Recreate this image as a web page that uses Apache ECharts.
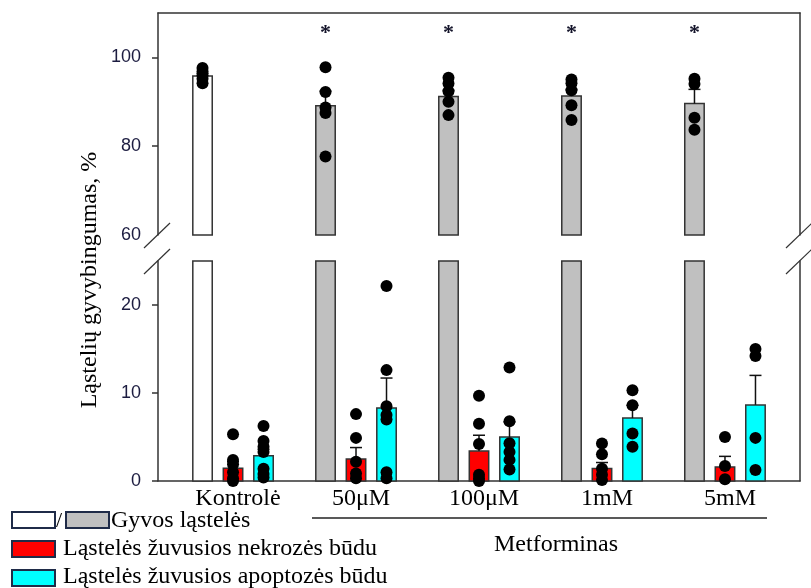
<!DOCTYPE html>
<html>
<head>
<meta charset="utf-8">
<script src="https://cdn.jsdelivr.net/npm/echarts@6/dist/echarts.min.js"></script>
<style>
  html, body { margin: 0; padding: 0; background: #ffffff; }
  #chart { width: 811px; height: 588px; }
</style>
</head>
<body>
<div id="chart"></div>
<script>
// ---------------- data ----------------
const groups = ['Kontrolė', '50μM', '100μM', '1mM', '5mM'];
const sigMarks = ['', '*', '*', '*', '*'];

// live cells (%), mean / mean+SEM / individual points
const liveMean   = [95.8, 89.1, 91.2, 91.3, 89.6];
const liveErrTop = [96.4, 92.4, 92.6, 92.8, 92.8];
const liveDots = [
  [97.6, 96.8, 96.0, 95.2, 94.2],
  [97.8, 92.2, 88.7, 87.5, 77.7],
  [95.4, 94.1, 92.4, 90.0, 87.0],
  [95.0, 94.2, 92.6, 89.2, 85.9],
  [95.2, 94.0, 86.4, 83.7]
];

// necrotic cells (%)
const necMean   = [1.45, 2.5, 3.4, 1.43, 1.6];
const necErrTop = [2.2, 3.8, 5.2, 2.1, 2.8];
const necDots = [
  [5.3, 2.4, 1.9, 1.0, 0.3, 0.0],
  [7.6, 4.9, 2.2, 0.85, 0.3],
  [9.7, 6.5, 4.2, 0.7, 0.3, 0.0],
  [4.25, 3.05, 1.4, 0.7, 0.1],
  [5.0, 1.7, 0.2]
];

// apoptotic cells (%)
const apoMean   = [2.86, 8.3, 5.0, 7.15, 8.65];
const apoErrTop = [3.6, 11.7, 6.7, 8.6, 12.0];
const apoDots = [
  [6.25, 4.55, 3.9, 3.3, 1.4, 0.8, 0.4],
  [22.15, 12.6, 8.5, 7.5, 7.0, 1.0, 0.3],
  [12.9, 6.8, 4.3, 3.3, 2.4, 1.3],
  [10.3, 8.6, 5.4, 3.9],
  [15.0, 14.2, 4.9, 1.24]
];

const upperTicks = [60, 80, 100];
const lowerTicks = [0, 10, 20];

// ---------------- layout / style ----------------
const UP_MIN = 60, UP_MAX = 110, LOW_MIN = 0, LOW_MAX = 25;
const X_MIN = 0.39, X_MAX = 5.61;
const OFFSET = 0.248, BAR_W = 0.158;
const SIG_Y = 105.4;
const AXIS_X_L = 158, AXIS_X_R = 800, TOP = 13, UP_BOT = 235, LOW_TOP = 261, BOT = 481;
const SERIF = '"Liberation Serif", "Times New Roman", serif';
const SANS = '"Liberation Sans", Arial, sans-serif';
const STROKE = '#333333';
const FILL_CTRL = '#ffffff', FILL_LIVE = '#c0c0c0', FILL_NEC = '#ff0000', FILL_APO = '#00ffff';

const chart = echarts.init(document.getElementById('chart'), null, { renderer: 'canvas' });

function barSeries(gridIdx, values, offset, fillFn, floor, ceil) {
  return {
    type: 'custom', xAxisIndex: gridIdx, yAxisIndex: gridIdx * 2, z: 2, clip: false,
    data: values.map((v, i) => [i + 1, v]),
    renderItem: (params, api) => {
      const x = api.value(0) + offset;
      const v = Math.min(api.value(1), ceil);
      const a = api.coord([x - BAR_W / 2, v]);
      const b = api.coord([x + BAR_W / 2, floor]);
      return {
        type: 'rect',
        shape: { x: a[0], y: a[1], width: b[0] - a[0], height: b[1] - a[1] },
        style: { fill: fillFn(params.dataIndex), stroke: STROKE, lineWidth: 1.5 }
      };
    }
  };
}

function errSeries(gridIdx, means, tops, offset) {
  return {
    type: 'custom', xAxisIndex: gridIdx, yAxisIndex: gridIdx * 2, z: 3, clip: false,
    data: means.map((m, i) => [i + 1, m, tops[i]]),
    renderItem: (params, api) => {
      const x = api.value(0) + offset;
      const p0 = api.coord([x, api.value(1)]);
      const p1 = api.coord([x, api.value(2)]);
      const st = { stroke: '#111111', lineWidth: 1.5 };
      return {
        type: 'group',
        children: [
          { type: 'line', shape: { x1: p0[0], y1: p0[1], x2: p1[0], y2: p1[1] }, style: st },
          { type: 'line', shape: { x1: p1[0] - 6, y1: p1[1], x2: p1[0] + 6, y2: p1[1] }, style: st }
        ]
      };
    }
  };
}

function dotSeries(gridIdx, dots, offset) {
  const data = [];
  dots.forEach((arr, i) => arr.forEach(v => data.push([i + 1 + offset, v])));
  return {
    type: 'scatter', xAxisIndex: gridIdx, yAxisIndex: gridIdx * 2, z: 4, clip: false,
    symbol: 'circle', symbolSize: 12,
    itemStyle: { color: '#000000', opacity: 1 },
    data: data
  };
}

function yAxisLeft(gridIdx, min, max, ticks, tickVals) {
  return {
    type: 'value', gridIndex: gridIdx, position: 'left', min: min, max: max,
    axisLine: { show: true, lineStyle: { color: STROKE, width: 1.5 } },
    axisTick: { show: true, inside: false, length: 6, customValues: tickVals, lineStyle: { color: STROKE, width: 1.5 } },
    axisLabel: { show: true, customValues: ticks, margin: 17, color: '#1c1c40', fontSize: 18, fontFamily: SANS },
    splitLine: { show: false }
  };
}
function yAxisRight(gridIdx, min, max) {
  return {
    type: 'value', gridIndex: gridIdx, position: 'right', min: min, max: max,
    axisLine: { show: true, lineStyle: { color: STROKE, width: 1.5 } },
    axisTick: { show: false }, axisLabel: { show: false }, splitLine: { show: false }
  };
}

const breakLines = [];
[[AXIS_X_L, UP_BOT], [AXIS_X_L, LOW_TOP], [AXIS_X_R, UP_BOT], [AXIS_X_R, LOW_TOP]].forEach(([x, y]) => {
  breakLines.push({
    type: 'line', silent: true,
    shape: { x1: x - 14, y1: y + 13, x2: x + 12, y2: y - 12 },
    style: { stroke: STROKE, lineWidth: 1.2 }, z: 10
  });
});

const legendItems = [
  { type: 'rect', shape: { x: 12, y: 512, width: 43, height: 16 }, style: { fill: FILL_CTRL, stroke: '#1f2b48', lineWidth: 2 } },
  { type: 'text', style: { x: 56, y: 521, text: '/', font: '22px ' + SERIF, fill: '#000', verticalAlign: 'middle' } },
  { type: 'rect', shape: { x: 66, y: 512, width: 43, height: 16 }, style: { fill: FILL_LIVE, stroke: '#1f2b48', lineWidth: 2 } },
  { type: 'text', style: { x: 111, y: 521, text: 'Gyvos ląstelės', font: '24px ' + SERIF, fill: '#000', verticalAlign: 'middle' } },
  { type: 'rect', shape: { x: 12, y: 541, width: 43, height: 16 }, style: { fill: FILL_NEC, stroke: '#1f2b48', lineWidth: 2 } },
  { type: 'text', style: { x: 63, y: 549, text: 'Ląstelės žuvusios nekrozės būdu', font: '24px ' + SERIF, fill: '#000', verticalAlign: 'middle' } },
  { type: 'rect', shape: { x: 12, y: 570, width: 43, height: 16 }, style: { fill: FILL_APO, stroke: '#1f2b48', lineWidth: 2 } },
  { type: 'text', style: { x: 63, y: 577, text: 'Ląstelės žuvusios apoptozės būdu', font: '24px ' + SERIF, fill: '#000', verticalAlign: 'middle' } }
];

const option = {
  animation: false,
  backgroundColor: '#ffffff',
  grid: [
    { left: AXIS_X_L, right: 811 - AXIS_X_R, top: TOP, height: UP_BOT - TOP },
    { left: AXIS_X_L, right: 811 - AXIS_X_R, top: LOW_TOP, height: BOT - LOW_TOP }
  ],
  xAxis: [
    {
      type: 'value', gridIndex: 0, position: 'top', min: X_MIN, max: X_MAX,
      axisLine: { show: true, lineStyle: { color: STROKE, width: 1.5 } },
      axisTick: { show: false }, axisLabel: { show: false }, splitLine: { show: false }
    },
    {
      type: 'value', gridIndex: 1, position: 'bottom', min: X_MIN, max: X_MAX,
      axisLine: { show: true, lineStyle: { color: STROKE, width: 1.5 } },
      axisTick: { show: false },
      axisLabel: {
        show: true, customValues: [1, 2, 3, 4, 5], margin: 6,
        formatter: v => groups[Math.round(v) - 1] || '',
        fontFamily: SERIF, fontSize: 24, color: '#000', padding: [0, 0, 0, 10]
      },
      splitLine: { show: false }
    }
  ],
  yAxis: [
    yAxisLeft(0, UP_MIN, UP_MAX, upperTicks, [80, 100]),
    yAxisRight(0, UP_MIN, UP_MAX),
    yAxisLeft(1, LOW_MIN, LOW_MAX, lowerTicks, lowerTicks),
    yAxisRight(1, LOW_MIN, LOW_MAX)
  ],
  series: [
    // upper panel
    barSeries(0, liveMean, -OFFSET, i => (i === 0 ? FILL_CTRL : FILL_LIVE), UP_MIN, UP_MAX),
    errSeries(0, liveMean, liveErrTop, -OFFSET),
    dotSeries(0, liveDots, -OFFSET),
    {
      type: 'custom', xAxisIndex: 0, yAxisIndex: 0, z: 5, clip: false,
      data: sigMarks.map((s, i) => [i + 1, SIG_Y]),
      renderItem: (params, api) => {
        const p = api.coord([api.value(0) - OFFSET, api.value(1)]);
        return {
          type: 'text', x: p[0], y: p[1],
          style: { text: sigMarks[params.dataIndex], font: 'bold 22px ' + SERIF, fill: '#14142a', align: 'center', verticalAlign: 'middle' }
        };
      }
    },
    // lower panel
    barSeries(1, liveMean, -OFFSET, i => (i === 0 ? FILL_CTRL : FILL_LIVE), LOW_MIN, LOW_MAX),
    barSeries(1, necMean, 0, () => FILL_NEC, LOW_MIN, LOW_MAX),
    barSeries(1, apoMean, OFFSET, () => FILL_APO, LOW_MIN, LOW_MAX),
    errSeries(1, necMean, necErrTop, 0),
    errSeries(1, apoMean, apoErrTop, OFFSET),
    dotSeries(1, necDots, 0),
    dotSeries(1, apoDots, OFFSET)
  ],
  graphic: [
    ...breakLines,
    {
      type: 'text', x: 90, y: 280, rotation: Math.PI / 2,
      style: { text: 'Ląstelių gyvybingumas, %', font: '24px ' + SERIF, fill: '#000', align: 'center', verticalAlign: 'middle' }
    },
    { type: 'line', shape: { x1: 312, y1: 518, x2: 767, y2: 518 }, style: { stroke: '#222', lineWidth: 1.3 } },
    { type: 'text', style: { x: 556, y: 545, text: 'Metforminas', font: '24px ' + SERIF, fill: '#000', align: 'center', verticalAlign: 'middle' } },
    ...legendItems
  ]
};

chart.setOption(option);
</script>
</body>
</html>
